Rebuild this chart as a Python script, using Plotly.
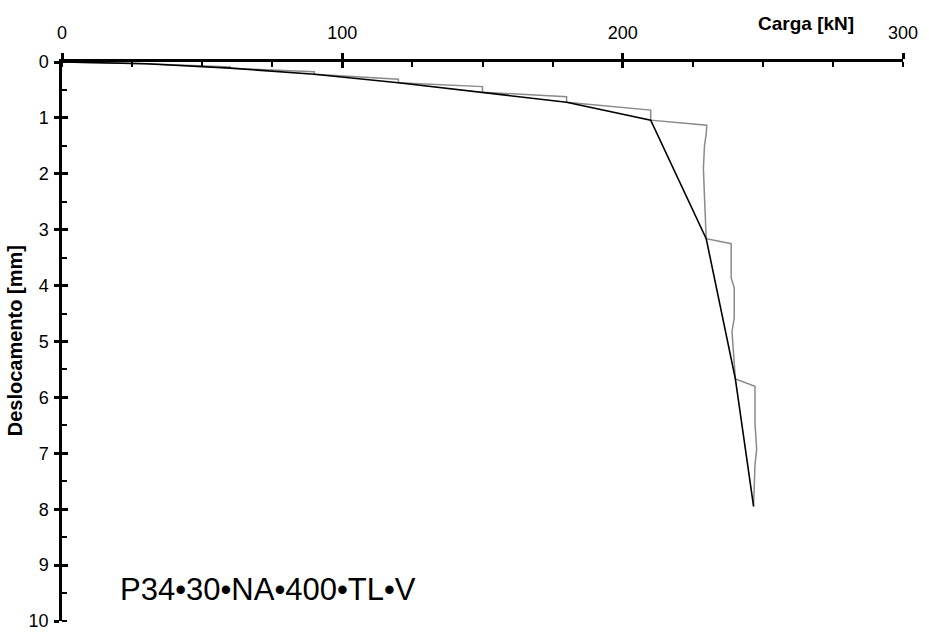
import plotly.graph_objects as go

# Load test readings (load in kN, settlement in mm)
carga_leitura = [0, 30, 30, 60, 60, 90, 90, 120, 120, 150, 150, 180, 180, 210, 210,
                 230.0, 229.8, 229.2, 228.8, 229.2, 229.5, 229.8,
                 238.7, 238.7, 239.8, 239.8, 239.0, 240.2,
                 247.2, 247.2, 247.8, 247.2, 246.7]
desloc_leitura = [0, 0.02, 0.03, 0.09, 0.11, 0.175, 0.22, 0.31, 0.37, 0.44, 0.54, 0.62, 0.72, 0.86, 1.04,
                  1.13, 1.29, 1.49, 1.90, 2.43, 2.90, 3.16,
                  3.25, 3.86, 4.04, 4.58, 4.82, 5.67,
                  5.80, 6.46, 6.93, 7.20, 7.95]

# End-of-stage points
carga_estagio = [0, 30, 60, 90, 120, 150, 180, 210, 229.8, 240.2, 246.7]
desloc_estagio = [0, 0.03, 0.11, 0.22, 0.37, 0.54, 0.72, 1.04, 3.16, 5.67, 7.95]

x_ticks = [0, 100, 200, 300]
y_ticks = list(range(0, 11))

FONT = "Liberation Sans, Arial, sans-serif"

fig = go.Figure()
fig.add_trace(go.Scatter(x=carga_leitura, y=desloc_leitura, mode="lines",
                         line=dict(color="#8a8a8a", width=1.5), showlegend=False,
                         hoverinfo="skip"))
fig.add_trace(go.Scatter(x=carga_estagio, y=desloc_estagio, mode="lines",
                         line=dict(color="#000000", width=1.6), showlegend=False,
                         xaxis="x2", yaxis="y2"))

common_x = dict(range=[0, 300], showgrid=False, zeroline=False)
common_y = dict(range=[10, 0], showgrid=False, zeroline=False)

fig.update_layout(
    width=929, height=642,
    margin=dict(l=62, r=21, t=62, b=11),
    plot_bgcolor="white", paper_bgcolor="white",
    font=dict(family=FONT, color="black", size=17),
    xaxis=dict(**common_x, side="top", tickvals=x_ticks, ticks="outside",
               ticklen=6, tickwidth=2.5, tickcolor="black",
               showline=True, linewidth=2.5, linecolor="black",
               tickfont=dict(size=18), ticklabelstandoff=7,
               minor=dict(dtick=25, ticks="inside", ticklen=5, tickwidth=2,
                          tickcolor="black")),
    yaxis=dict(**common_y, tickvals=y_ticks, ticks="outside",
               ticklen=5, tickwidth=2.5, tickcolor="black",
               showline=True, linewidth=2.5, linecolor="black",
               tickfont=dict(size=18), ticklabelstandoff=2,
               minor=dict(dtick=0.5, ticks="inside", ticklen=5, tickwidth=2,
                          tickcolor="black")),
    xaxis2=dict(**common_x, overlaying="x", side="top", tickvals=x_ticks,
                ticks="inside", ticklen=6, tickwidth=2.5, tickcolor="black",
                showticklabels=False, showline=False),
    yaxis2=dict(**common_y, overlaying="y", tickvals=y_ticks,
                ticks="inside", ticklen=6, tickwidth=2.5, tickcolor="black",
                showticklabels=False, showline=False),
    annotations=[
        dict(text="<b>Carga [kN]</b>", xref="paper", yref="paper",
             x=(810 - 62) / 846, y=1 + (62 - 23) / 569, showarrow=False,
             font=dict(size=19, family=FONT), xanchor="center", yanchor="middle"),
        dict(text="<b>Deslocamento [mm]</b>", xref="paper", yref="paper",
             x=-(62 - 15) / 846, y=(631 - 346) / 569, showarrow=False, textangle=-90,
             font=dict(size=20, family=FONT), xanchor="center", yanchor="middle"),
        dict(text="P34•30•NA•400•TL•V", xref="paper", yref="paper",
             x=(118 - 62) / 846, y=(631 - 599) / 569, showarrow=False,
             font=dict(size=31, family=FONT), xanchor="left", yanchor="middle"),
    ],
)

fig.write_html("out.html")
